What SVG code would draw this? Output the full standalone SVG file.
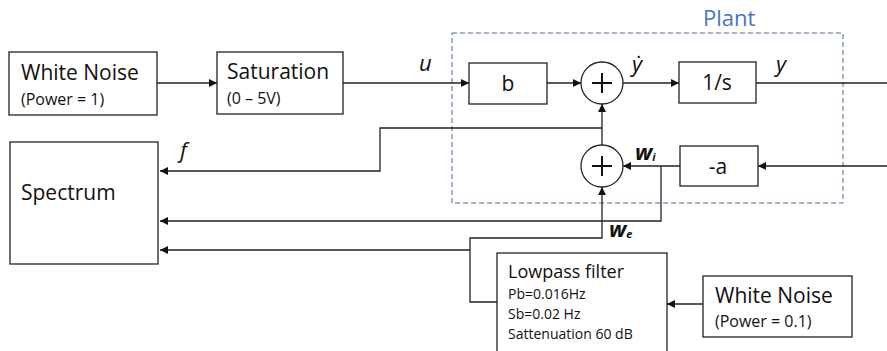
<svg xmlns="http://www.w3.org/2000/svg" width="887" height="351" viewBox="0 0 887 351">
<defs>
<marker id="ah" viewBox="0 0 10 10" refX="10" refY="5" markerWidth="9" markerHeight="8" markerUnits="userSpaceOnUse" orient="auto">
<path d="M0,0 L10,5 L0,10 z" fill="#111"/>
</marker>
<style>
.box{fill:#fff;stroke:#222;stroke-width:1.3}
.sum{fill:#fff;stroke:#222;stroke-width:1.3}
.plus{stroke:#111;stroke-width:2;fill:none}
.ln{fill:none;stroke:#222;stroke-width:1.3}
.arr{fill:none;stroke:#222;stroke-width:1.3;marker-end:url(#ah)}
.t{font-family:"Open Sans","Liberation Sans",sans-serif;fill:#111}
.big{font-size:21px}
.mid{font-size:16px}
.sm{font-size:14px}
.lbl{font-family:"Open Sans","Liberation Sans",sans-serif;font-style:italic;font-size:22px;fill:#111}
.plant{font-family:"Open Sans","Liberation Sans",sans-serif;font-size:22px;fill:#4a72c0}
.dash{fill:none;stroke:#4a6a9a;stroke-width:1;stroke-dasharray:5,3}
</style>
</defs>
<rect width="887" height="351" fill="#fff"/>

<g id="plant">
<rect class="dash" x="452" y="33" width="391" height="170"/>
<text class="plant" x="703" y="26">Plant</text>
</g>

<g id="connectors">
<path class="arr" d="M157,83 H217"/>
<path class="arr" d="M343,83 H469"/>
<path class="arr" d="M547,83 H581"/>
<path class="arr" d="M623,83 H679"/>
<path class="ln" d="M756,83 H887"/>
<path class="arr" d="M887,166 H758"/>
<path class="arr" d="M680,166 H623"/>
<path class="arr" d="M602,145 V104"/>
<path class="arr" d="M602,128 H380 V171 H160"/>
<path class="arr" d="M661,166 V221 H160"/>
<path class="arr" d="M497,302 H470 V238 H602 V187"/>
<path class="arr" d="M470,250 H160"/>
<path class="arr" d="M703,304 H667"/>
</g>

<g id="labels">
<text class="lbl" x="419" y="71">u</text>
<text class="lbl" x="632" y="72">ẏ</text>
<text class="lbl" x="776" y="72">y</text>
<text class="lbl" x="180" y="158">f</text>
<text class="lbl" x="635" y="160" font-weight="bold">w<tspan font-size="11" dy="1">i</tspan></text>
<text class="lbl" x="609" y="237" font-weight="bold">w<tspan font-size="11" dy="1">e</tspan></text>
</g>

<g id="white-noise-1">
<rect class="box" x="9" y="52" width="148" height="63"/>
<text class="t big" x="21" y="80">White Noise</text>
<text class="t mid" x="21" y="105">(Power = 1)</text>
</g>

<g id="saturation">
<rect class="box" x="217" y="52" width="126" height="62"/>
<text class="t big" x="227" y="79">Saturation</text>
<text class="t mid" x="227" y="104">(0 – 5V)</text>
</g>

<g id="gain-b">
<rect class="box" x="469" y="63" width="78" height="41"/>
<text class="t big" x="508" y="91" text-anchor="middle">b</text>
</g>

<g id="sum-1">
<circle class="sum" cx="602" cy="83" r="21"/>
<path class="plus" d="M592,83 H612 M602,73 V93"/>
</g>

<g id="integrator">
<rect class="box" x="679" y="62" width="77" height="41"/>
<text class="t big" x="717" y="90" text-anchor="middle">1/s</text>
</g>

<g id="sum-2">
<circle class="sum" cx="602" cy="166" r="21"/>
<path class="plus" d="M592,166 H612 M602,156 V176"/>
</g>

<g id="gain-a">
<rect class="box" x="680" y="146" width="78" height="40"/>
<text class="t big" x="718" y="174" text-anchor="middle">-a</text>
</g>

<g id="spectrum">
<rect class="box" x="10" y="142" width="148" height="122"/>
<text class="t big" x="21" y="200">Spectrum</text>
</g>

<g id="lowpass-filter">
<rect class="box" x="497" y="253" width="170" height="110"/>
<text class="t" x="508" y="278" font-size="18">Lowpass filter</text>
<text class="t sm" x="508" y="299">Pb=0.016Hz</text>
<text class="t sm" x="508" y="319">Sb=0.02 Hz</text>
<text class="t sm" x="508" y="339">Sattenuation 60 dB</text>
</g>

<g id="white-noise-2">
<rect class="box" x="703" y="276" width="149" height="61"/>
<text class="t big" x="715" y="303">White Noise</text>
<text class="t mid" x="715" y="327">(Power = 0.1)</text>
</g>
</svg>
